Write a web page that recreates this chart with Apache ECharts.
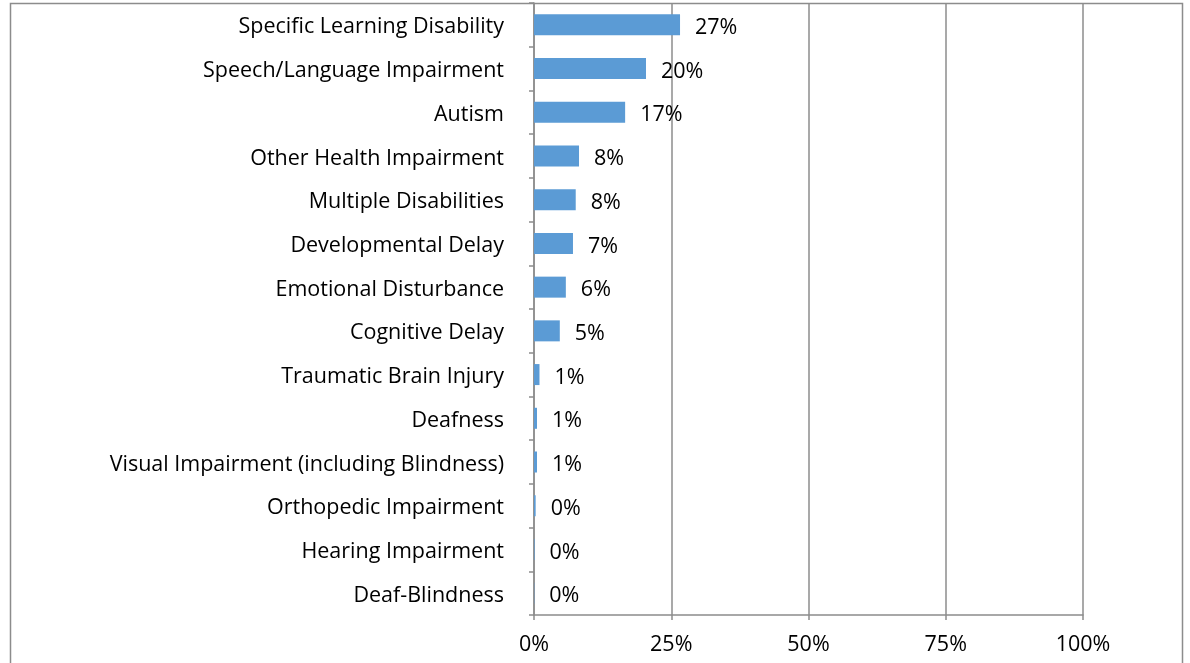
<!DOCTYPE html>
<html><head><meta charset="utf-8">
<script src="https://cdn.jsdelivr.net/npm/echarts@6/dist/echarts.min.js"></script>
<style>html,body{margin:0;padding:0;background:#fff}#c{width:1190px;height:663px}</style>
</head><body><div id="c"></div>
<script>
const categories = [
  "Specific Learning Disability",
  "Speech/Language Impairment",
  "Autism",
  "Other Health Impairment",
  "Multiple Disabilities",
  "Developmental Delay",
  "Emotional Disturbance",
  "Cognitive Delay",
  "Traumatic Brain Injury",
  "Deafness",
  "Visual Impairment (including Blindness)",
  "Orthopedic Impairment",
  "Hearing Impairment",
  "Deaf-Blindness"
];
const values = [26.6, 20.4, 16.6, 8.2, 7.6, 7.1, 5.8, 4.7, 1.0, 0.55, 0.55, 0.3, 0.1, 0.05];
const xTicks = [0, 25, 50, 75, 100];

const FONT = "'Open Sans', 'Noto Sans', sans-serif";
const FS = 21.5;
const chart = echarts.init(document.getElementById('c'), null, {renderer: 'canvas'});
chart.setOption({
  animation: false,
  backgroundColor: '#fff',
  graphic: [{type: 'rect', shape: {x: 10.5, y: 3.5, width: 1172, height: 700}, style: {fill: 'none', stroke: '#8c8c8c', lineWidth: 1.5}, z: -1}],
  grid: {left: 534, right: 107, top: 3, bottom: 48, containLabel: false},
  xAxis: {
    type: 'value', min: 0, max: 100, interval: 25,
    axisLine: {show: true, lineStyle: {color: '#8c8c8c', width: 1.5}},
    axisTick: {show: true, length: 5, lineStyle: {color: '#8c8c8c', width: 1.5}},
    splitLine: {show: true, lineStyle: {color: '#8c8c8c', width: 1.5}},
    axisLabel: {color: '#000', fontFamily: FONT, fontSize: FS, margin: 19,
      formatter: v => xTicks.includes(v) ? v + '%' : ''}
  },
  yAxis: {
    type: 'category', data: categories, inverse: true,
    axisLine: {show: true, lineStyle: {color: '#8c8c8c', width: 1.5}},
    axisTick: {show: true, length: 5, lineStyle: {color: '#8c8c8c', width: 1.5}},
    axisLabel: {color: '#000', fontFamily: FONT, fontSize: FS, margin: 30,
      formatter: v => '{a|' + v + '}',
      rich: {a: {fontFamily: FONT, fontSize: FS, color: '#000', padding: [5, 0, 0, 0]}}}
  },
  series: [{
    type: 'bar', data: values, barWidth: 21,
    itemStyle: {color: '#5B9BD5'},
    label: {show: true, position: 'right', distance: 15, color: '#000', fontFamily: FONT, fontSize: FS,
      offset: [0, 3],
      formatter: p => Math.round(p.value) + '%'}
  }]
});
</script></body></html>
